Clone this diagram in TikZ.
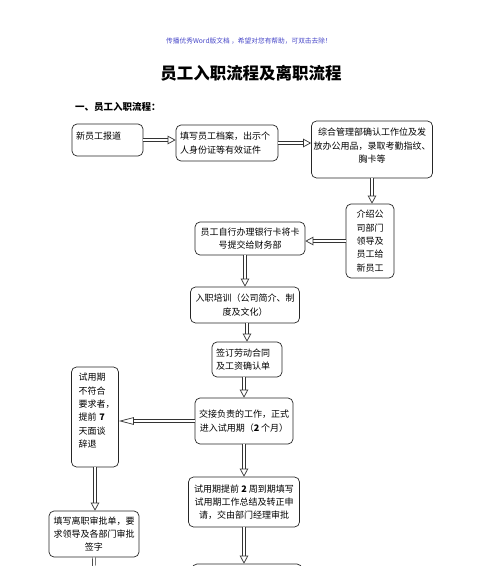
\documentclass[tikz,border=0pt]{standalone}
\usepackage{fontspec}
\newfontfamily\cjk{Noto Sans CJK SC}
\usetikzlibrary{arrows.meta}
\definecolor{hdr}{RGB}{70,70,200}
\begin{document}
\begin{tikzpicture}[x=1pt,y=-1pt,
  box/.style={draw=black!85, rounded corners=5pt, line width=0.7pt, inner xsep=4pt, inner ysep=2pt,
    font=\cjk\fontsize{9}{13.3}\selectfont, align=center},
  lbox/.style={box, align=left},
  dbl/.style={draw=black!80, line width=0.7pt, double=white, double distance=2pt,
    -{Triangle[open, length=8pt, width=8.5pt]}},
  dbllong/.style={dbl, -{Triangle[open, length=15pt, width=7.5pt]}},
]
\useasboundingbox (0,0) rectangle (500,566);
\clip (0,0) rectangle (500,566);
\node[font=\cjk\fontsize{6.7}{7}\selectfont, text=hdr] (hdr) at (249,41) {传播优秀Word版文档 ，希望对您有帮助，可双击去除！};
\node[font=\cjk\bfseries\fontsize{16.5}{18}\selectfont] (title) at (251,73) {员工入职流程及离职流程};
\node[font=\cjk\bfseries\fontsize{9.5}{11}\selectfont, anchor=west, inner sep=0pt] (sec) at (75,107) {一、员工入职流程：};

\node[lbox, text width=63pt, minimum height=32pt] (b1) at (107.5,140) {新员工报道\\[-4pt]\mbox{}};
\node[lbox, text width=94pt, minimum height=36pt] (b2) at (227,143) {填写员工档案，出示个\\人身份证等有效证件};
\node[box, minimum width=121pt, minimum height=57pt, inner xsep=2pt] (b3) at (372,149.5) {综合管理部确认工作位及发\\放办公用品，录取考勤指纹、\\胸卡等\\[-5pt]\mbox{}};
\node[box, minimum width=48pt, minimum height=74pt] (b4) at (370,241) {介绍公\\司部门\\领导及\\员工给\\新员工};
\node[box, minimum width=110pt, minimum height=33pt] (b5) at (250,238.5) {员工自行办理银行卡将卡\\号提交给财务部};
\node[box, minimum width=109pt, minimum height=36pt] (b6) at (245,305) {入职培训（公司简介、制\\度及文化）};
\node[lbox, text width=62pt, minimum height=35pt] (b7) at (247,359.5) {签订劳动合同\\及工资确认单};
\node[box, minimum width=98pt, minimum height=46pt] (b8) at (244,421) {交接负责的工作，正式\\进入试用期（\textbf{2} 个月）};
\node[lbox, inner xsep=7pt, text width=33pt, minimum height=100pt] (b9) at (95,417) {试用期\\不符合\\要求者，\\提前 \textbf{7}\\天面谈\\辞退\\ \mbox{}};
\node[box, minimum width=111pt, minimum height=50pt] (b10) at (244,502) {试用期提前 \textbf{2} 周到期填写\\试用期工作总结及转正申\\请，交由部门经理审批};
\node[box, minimum width=90pt, minimum height=46pt] (b11) at (94,534) {填写离职审批单，要\\求领导及各部门审批\\签字};
\node[box, minimum width=110pt, minimum height=40pt] (b12) at (247,584) {};
\coordinate (c11) at (93,595);

\draw[dbl] (b1.east) -- (b1.east -| b2.west);
\draw[dbl] (b2.east) -- (b2.east -| b3.west);
\draw[dbl] (b3.south) -- (b3.south |- b4.north);
\draw[dbl] (b4.west) -- (b4.west -| b5.east);
\draw[dbl] (b6.north |- b5.south) -- (b6.north);
\draw[dbl] (b7.north |- b6.south) -- (b7.north);
\draw[dbl] (b8.north |- b7.south) -- (b8.north);
\draw[dbllong] (b8.west) -- (b8.west -| b9.east);
\draw[dbl] (b8.south) -- (b8.south |- b10.north);
\draw[dbl] (b9.south) -- (b9.south |- b11.north);
\draw[dbl] (b10.south) -- (b10.south |- b12.north);
\draw[dbl] (b11.south) -- (c11);
\end{tikzpicture}
\end{document}
